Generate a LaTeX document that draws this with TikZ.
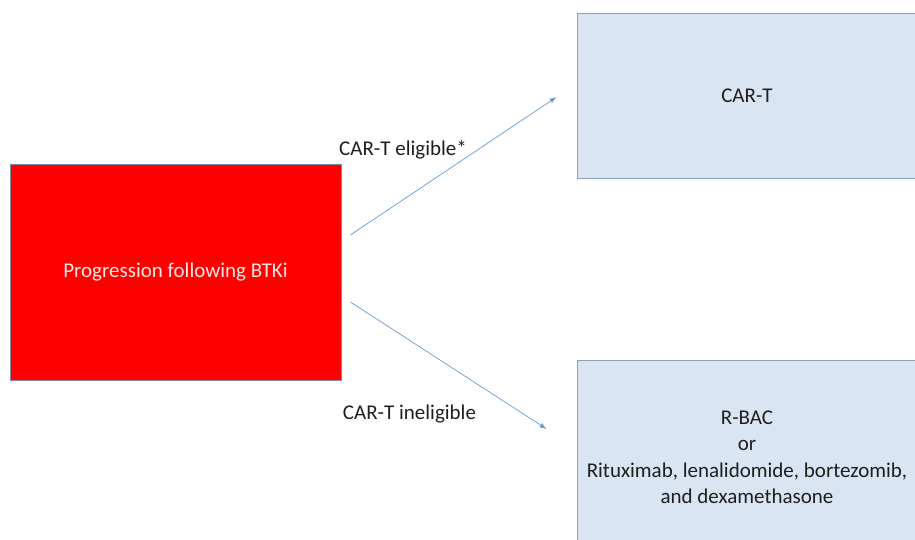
\documentclass[tikz,border=0pt]{standalone}
\usepackage{fontspec}
\setmainfont{Carlito}
\usetikzlibrary{arrows.meta}
\definecolor{boxfill}{HTML}{DAE5F3}
\definecolor{boxline}{HTML}{8AA2B6}
\definecolor{redline}{HTML}{7E8CA4}
\definecolor{arrowblue}{HTML}{6A9CCB}
\definecolor{darktext}{HTML}{1E1E1E}
\begin{document}
\begin{tikzpicture}[x=1pt,y=1pt]
                \tikzset{
                    redbox/.style={draw=redline, line width=0.8pt, fill=red, minimum width=331pt, minimum height=216pt, text=white!90!red, font=\fontsize{21}{26.5}\selectfont},
                    treatbox/.style={draw=boxline, line width=0.8pt, fill=boxfill, minimum width=340pt, align=center, text=darktext, font=\fontsize{21}{26.5}\selectfont},
                    branch/.style={draw=arrowblue, line width=0.7pt, -{Latex[length=7pt,width=5pt]}},
                    branchlabel/.style={text=darktext, font=\fontsize{21}{26.5}\selectfont}
                }
                \useasboundingbox (0,0) rectangle (915,540);
                \clip (0,0) rectangle (915,540);

                \draw node[redbox] (prog) at (175.5,268) {Progression following BTKi};
                \draw node[treatbox, minimum height=165pt] (cart) at (747,444.5) {CAR-T};
                \draw node[treatbox, minimum height=195pt] (rbac) at (747,82.5) {R-BAC\\or\\Rituximab, lenalidomide, bortezomib,\\and dexamethasone};

                \coordinate (s1) at ([shift={(9,37)}]prog.east);
                \coordinate (t1) at ([shift={(-20,-1.5)}]cart.west);
                \coordinate (s2) at ([shift={(9,-30)}]prog.east);
                \coordinate (t2) at ([shift={(-30,28.5)}]rbac.west);
                \foreach \x/\y in {%
                    s1/t1,s2/t2%
                }{
                \draw[branch] (\x) -- (\y);
                }

                \draw node[branchlabel] (elig) at (403,390) {CAR-T eligible*};
                \draw node[branchlabel] (inelig) at (409.5,126) {CAR-T ineligible};
            \end{tikzpicture}
\end{document}
